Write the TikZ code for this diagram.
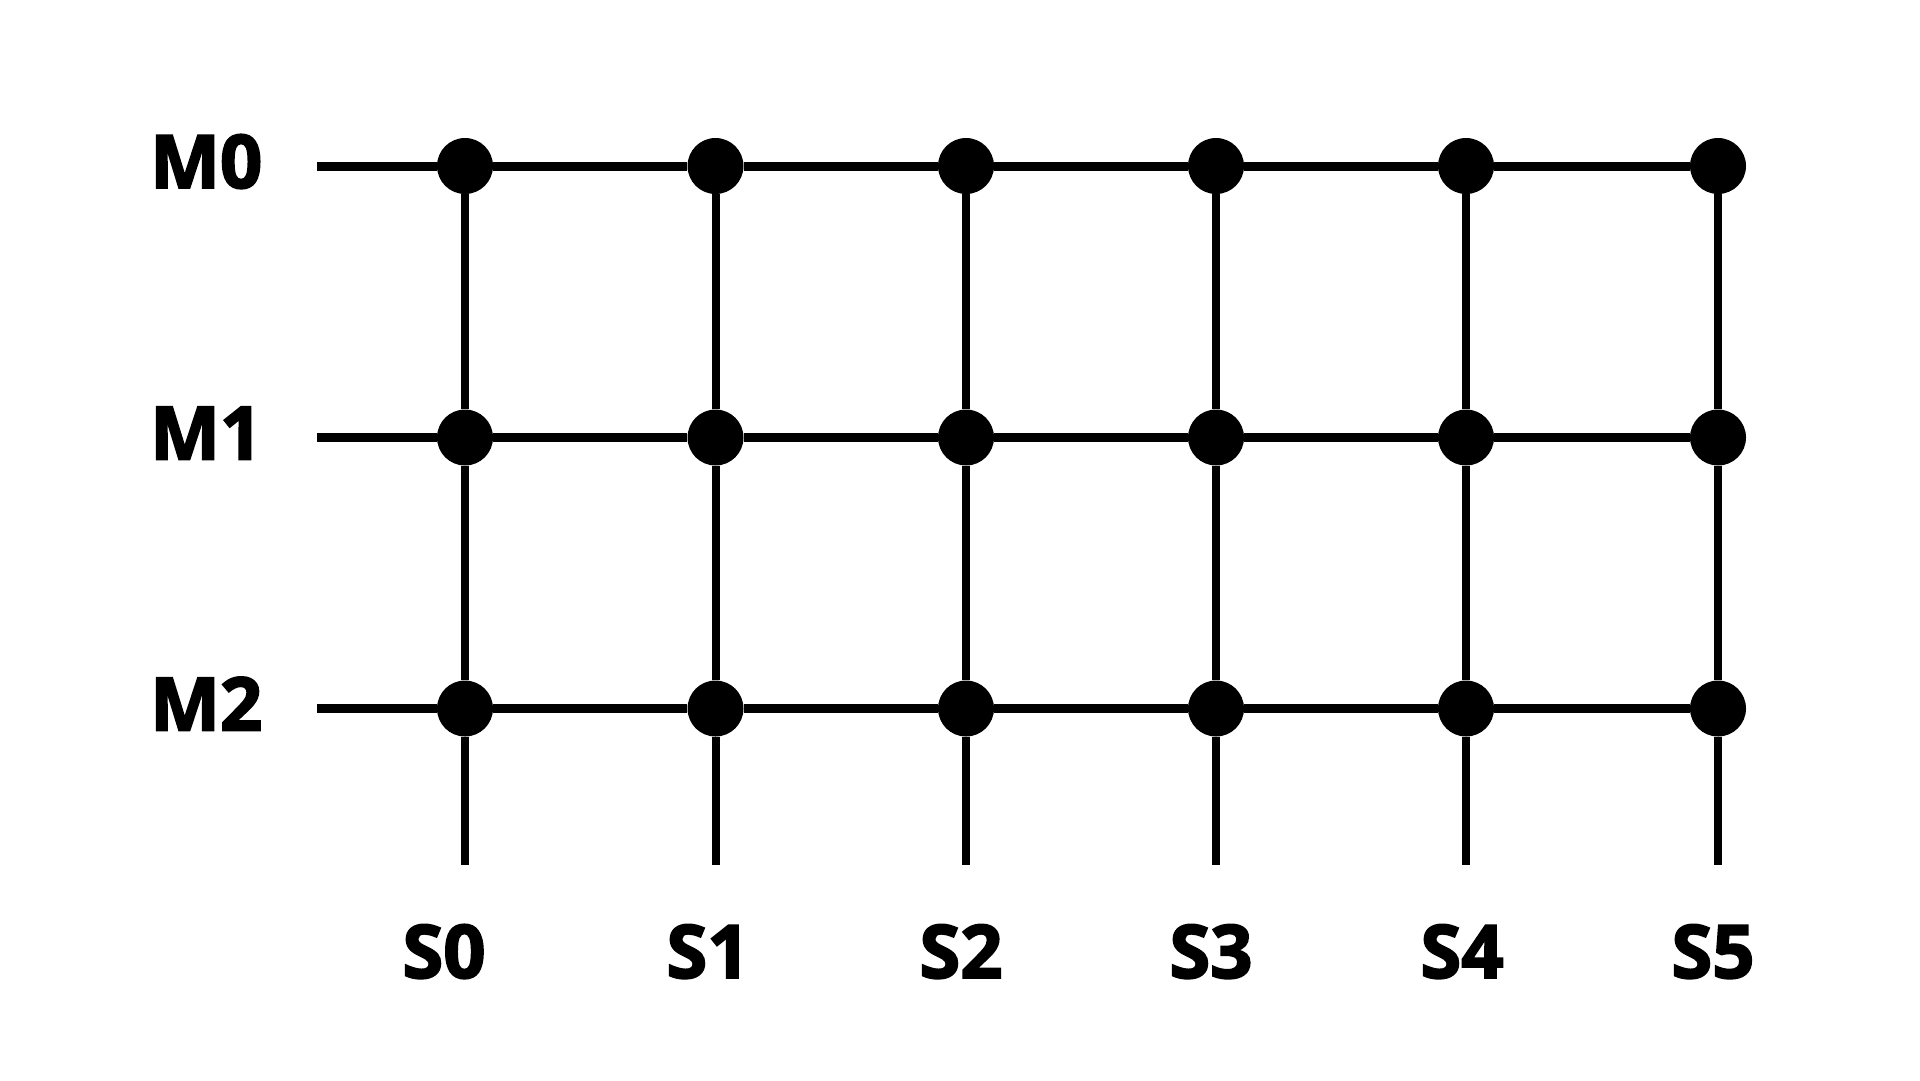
\documentclass[tikz,border=0pt]{standalone}
\usepackage{fontspec}
\newfontfamily\labfont{Open Sans}[UprightFont={* Bold},UprightFeatures={FakeBold=2.5}]
\begin{document}
\begin{tikzpicture}[x=1pt,y=-1pt,
  dot/.style={circle,fill=black,draw=none,minimum size=56pt,inner sep=0pt},
  hwire/.style={line width=9pt,black},
  vwire/.style={line width=8pt,black},
  lab/.style={font=\labfont\fontsize{74}{80}\selectfont,inner sep=0pt}]
\useasboundingbox (0,0) rectangle (1920,1080);
\foreach \r/\y in {0/166,1/437.5,2/708.5}{
  \foreach \c/\x in {0/465,1/715.5,2/966,3/1216,4/1466,5/1718}{
    \node[dot] (d\r\c) at (\x,\y) {};
  }
  \coordinate (h\r) at (317,\y);
  \node[lab,anchor=base west] (m\r) at (150,\y+22) {M\r};
  \draw[hwire] (h\r) -- (d\r0) (d\r0) -- (d\r1) (d\r1) -- (d\r2) (d\r2) -- (d\r3) (d\r3) -- (d\r4) (d\r4) -- (d\r5);
}
\foreach \c/\x/\lx in {0/465/444,1/715.5/708,2/966/961,3/1216/1211,4/1466/1462,5/1718/1713}{
  \coordinate (v\c) at (\x,865);
  \draw[vwire] (d0\c) -- (d1\c) (d1\c) -- (d2\c) (d2\c) -- (v\c);
  \node[lab,anchor=base] (s\c) at (\lx,978) {S\c};
}
\end{tikzpicture}
\end{document}
